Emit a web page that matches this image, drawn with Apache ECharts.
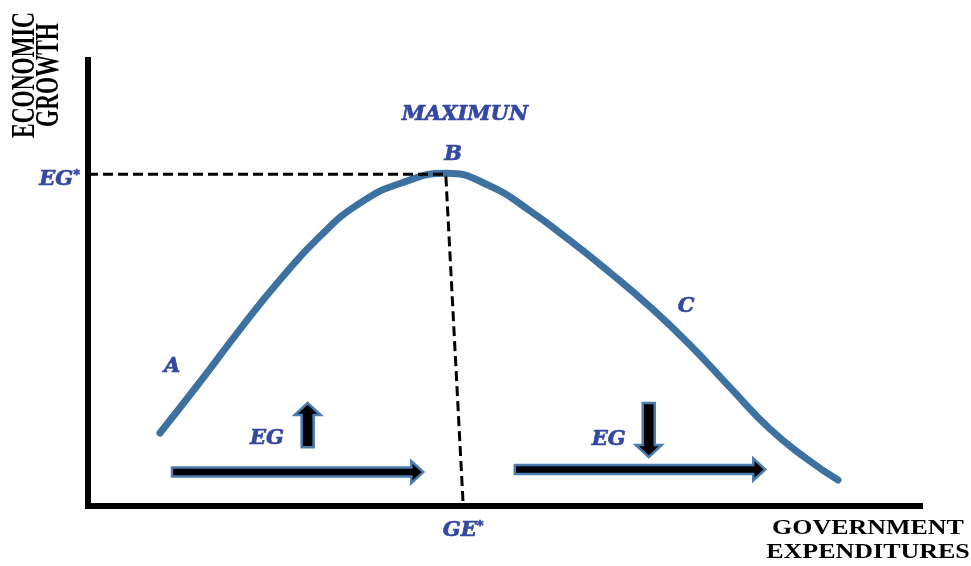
<!DOCTYPE html>
<html>
<head>
<meta charset="utf-8">
<script src="https://cdn.jsdelivr.net/npm/echarts@6/dist/echarts.min.js"></script>
<style>html,body{margin:0;padding:0;background:#fff}#chart{width:971px;height:566px}</style>
</head>
<body>
<div id="chart"></div>
<script>
// government expenditures (x) against economic growth (y), arbitrary units 0-100
const curveX = [8.65, 13.46, 18.27, 23.08, 27.88, 32.69, 37.86, 43.15, 48.32, 53.13, 57.93, 62.74, 67.55, 72.36, 77.16, 81.97, 86.42, 90.14];
const curveY = [16.37, 27.80, 39.62, 50.72, 60.49, 67.91, 72.56, 74.60, 71.75, 66.17, 59.51, 52.33, 44.66, 36.10, 26.59, 17.26, 10.54, 5.83];

const peak = [43.0, 74.4];   // point B, level EG*
const geStar = 45.1;         // GE* on the x axis

const letters = [
  ['MAXIMUN', 45.3, 87.7],
  ['B', 43.9, 78.9],
  ['A', 10.1, 31.2],
  ['C', 71.9, 44.8],
  ['EG', 21.5, 15.2],
  ['EG', 62.6, 14.8]
];

// arrows as [x1, y1, x2, y2], head at the second point
const arrows = [
  [10.1, 7.6, 40.3, 7.6],
  [51.3, 8.2, 81.4, 8.2],
  [26.4, 13.2, 26.4, 23.1],
  [67.4, 23.1, 67.4, 11.0]
];

const blue = '#3448a3';
const labelFont = {
  color: blue,
  fontFamily: 'DejaVu Serif',
  fontStyle: 'italic',
  fontWeight: 'bold',
  fontSize: 21,
  textBorderColor: blue,
  textBorderWidth: 0.7,
  rich: {
    s: { color: blue, fontFamily: 'DejaVu Serif', fontWeight: 'bold', fontSize: 13, verticalAlign: 'top' }
  }
};

function drawArrow(params, api) {
  const a = api.coord([api.value(0), api.value(1)]);
  const b = api.coord([api.value(2), api.value(3)]);
  const dx = b[0] - a[0], dy = b[1] - a[1];
  const len = Math.sqrt(dx * dx + dy * dy);
  const ux = dx / len, uy = dy / len;
  const nx = -uy, ny = ux;
  const vertical = Math.abs(dy) > Math.abs(dx);
  const hw = vertical ? 6 : 4.5, hh = vertical ? 13 : 11, hl = 12;
  const bx = b[0] - ux * hl, by = b[1] - uy * hl;
  return {
    type: 'polygon',
    shape: {
      points: [
        [a[0] + nx * hw, a[1] + ny * hw],
        [bx + nx * hw, by + ny * hw],
        [bx + nx * hh, by + ny * hh],
        b,
        [bx - nx * hh, by - ny * hh],
        [bx - nx * hw, by - ny * hw],
        [a[0] - nx * hw, a[1] - ny * hw]
      ]
    },
    style: { fill: '#000', stroke: '#4a7cb0', lineWidth: 2.5 }
  };
}

const axisCommon = {
  type: 'value',
  min: 0,
  max: 100,
  axisLine: { show: true, onZero: false, lineStyle: { color: '#000', width: 6, cap: 'square' } },
  axisTick: { show: false },
  axisLabel: { show: false },
  splitLine: { show: false }
};

const option = {
  backgroundColor: '#fff',
  animation: false,
  grid: { left: 88, right: 51, top: 60, bottom: 60 },
  xAxis: axisCommon,
  yAxis: axisCommon,
  graphic: [
    {
      type: 'text', x: 37, y: 75, rotation: Math.PI / 2, scaleY: 1.5,
      style: { text: 'ECONOMIC\nGROWTH', font: 'bold 22px "Liberation Serif"', fill: '#000',
               align: 'center', verticalAlign: 'middle', lineHeight: 16 }
    },
    {
      type: 'text', x: 868, y: 540, scaleX: 1.18,
      style: { text: 'GOVERNMENT\nEXPENDITURES', font: 'bold 22px "Liberation Serif"', fill: '#000',
               align: 'center', verticalAlign: 'middle', lineHeight: 24 }
    }
  ],
  series: [
    {
      type: 'line',
      smooth: 0.5,
      symbol: 'none',
      data: curveX.map((x, i) => [x, curveY[i]]),
      lineStyle: { color: '#3d72a0', width: 7, cap: 'round' },
      z: 2
    },
    {
      type: 'line',
      symbol: 'circle',
      symbolSize: 0,
      data: [
        { value: [0, peak[1]], label: { show: true, position: 'left', distance: 8, offset: [0, 5], formatter: 'EG{s|*}', ...labelFont } },
        { value: peak },
        { value: [geStar, 0], label: { show: true, position: 'bottom', distance: 14, formatter: 'GE{s|*}', ...labelFont } }
      ],
      lineStyle: { color: '#000', width: 3, type: [10, 5] },
      z: 3
    },
    {
      type: 'scatter',
      symbolSize: 0,
      itemStyle: { opacity: 1 },
      data: letters.map(l => ({ name: l[0], value: [l[1], l[2]] })),
      label: { show: true, position: 'inside', formatter: '{b}', ...labelFont },
      z: 4
    },
    {
      type: 'custom',
      renderItem: drawArrow,
      data: arrows,
      encode: { x: [0, 2], y: [1, 3] },
      z: 4
    }
  ]
};

echarts.init(document.getElementById('chart')).setOption(option);
</script>
</body>
</html>
